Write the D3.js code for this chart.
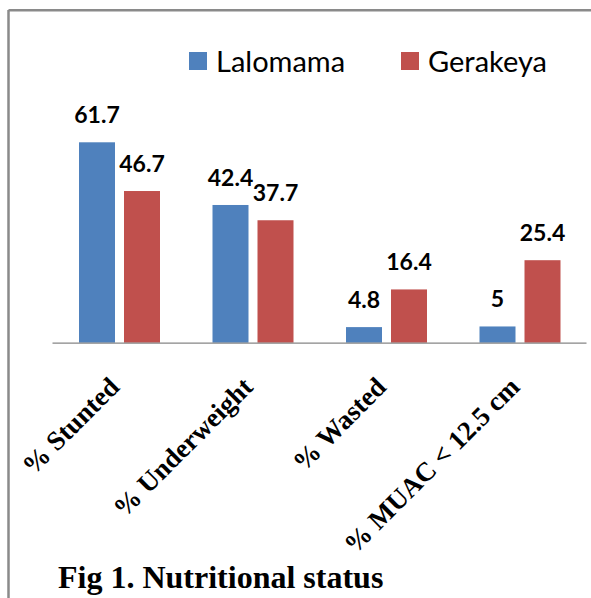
<!DOCTYPE html>
<html><head><meta charset="utf-8">
<script src="https://cdn.jsdelivr.net/npm/d3@7"></script>
<style>html,body{margin:0;padding:0;background:#fff;}</style>
</head><body>
<script>
const categories = ["% Stunted", "% Underweight", "% Wasted", "% MUAC < 12.5 cm"];
const seriesNames = ["Lalomama", "Gerakeya"];
const lalomama = [61.7, 42.4, 4.8, 5];
const gerakeya = [46.7, 37.7, 16.4, 25.4];
const seriesColors = ["#4f81bd", "#c0504d"];
const title = "Fig 1. Nutritional status";

const W = 591, H = 598;
const svg = d3.select("body").append("svg").attr("width", W).attr("height", H);

// frame (top and left edges visible)
svg.append("line").attr("x1", 8.5).attr("x2", 8.5).attr("y1", 10).attr("y2", H).attr("stroke", "#8a8a8a").attr("stroke-width", 2.5);
svg.append("line").attr("x1", 8.5).attr("x2", W).attr("y1", 10.3).attr("y2", 10.3).attr("stroke", "#8a8a8a").attr("stroke-width", 2.5);

const x0 = d3.scaleBand().domain(categories).range([52, 586]).paddingInner(0).paddingOuter(0);
const x1 = d3.scaleBand().domain(seriesNames).range([27, 108]).paddingInner(0.2).paddingOuter(0);
const y = d3.scaleLinear().domain([0, 70]).range([342.7, 342.7 - 70 * 3.248]);

const data = categories.map((c, i) => ({cat: c, vals: [lalomama[i], gerakeya[i]]}));

const g = svg.append("g");
data.forEach(d => {
  d.vals.forEach((v, j) => {
    const bx = x0(d.cat) + x1(seriesNames[j]);
    g.append("rect").attr("x", bx).attr("y", y(v)).attr("width", x1.bandwidth()).attr("height", y(0) - y(v))
      .attr("fill", seriesColors[j]);
    g.append("text").attr("x", bx + x1.bandwidth() / 2).attr("y", y(v) - 19)
      .attr("text-anchor", "middle").attr("font-family", "Lato, 'Open Sans', sans-serif").attr("font-weight", "bold")
      .attr("font-size", 23).attr("fill", "#000").text(v);
  });
});

// axis
const xAxis = d3.axisBottom(x0).tickSize(0).tickFormat("");
const ax = svg.append("g").attr("transform", `translate(0,${y(0)})`).call(xAxis);
ax.select(".domain").attr("stroke", "#868686").attr("stroke-width", 1.2);

categories.forEach(c => {
  const cx = x0(c) + x0.bandwidth() / 2 + 2;
  const cy = y(0) + 46;
  svg.append("text").attr("transform", `translate(${cx},${cy}) rotate(-45)`)
    .attr("text-anchor", "end").attr("font-family", "'Liberation Serif', 'Times New Roman', serif")
    .attr("font-weight", "bold").attr("font-size", 27).attr("fill", "#000").text(c);
});

// legend
const leg = svg.append("g");
const legX = [189, 401];
seriesNames.forEach((s, j) => {
  leg.append("rect").attr("x", legX[j]).attr("y", 52).attr("width", 18).attr("height", 18).attr("fill", seriesColors[j]);
  leg.append("text").attr("x", legX[j] + 27).attr("y", 72).attr("font-family", "Lato, 'Open Sans', sans-serif")
    .attr("font-size", 29).attr("fill", "#000").text(s);
});

svg.append("text").attr("x", 58).attr("y", 588).attr("font-family", "'Liberation Serif', 'Times New Roman', serif")
  .attr("font-weight", "bold").attr("font-size", 32).attr("fill", "#000").text(title);
</script>
</body></html>
